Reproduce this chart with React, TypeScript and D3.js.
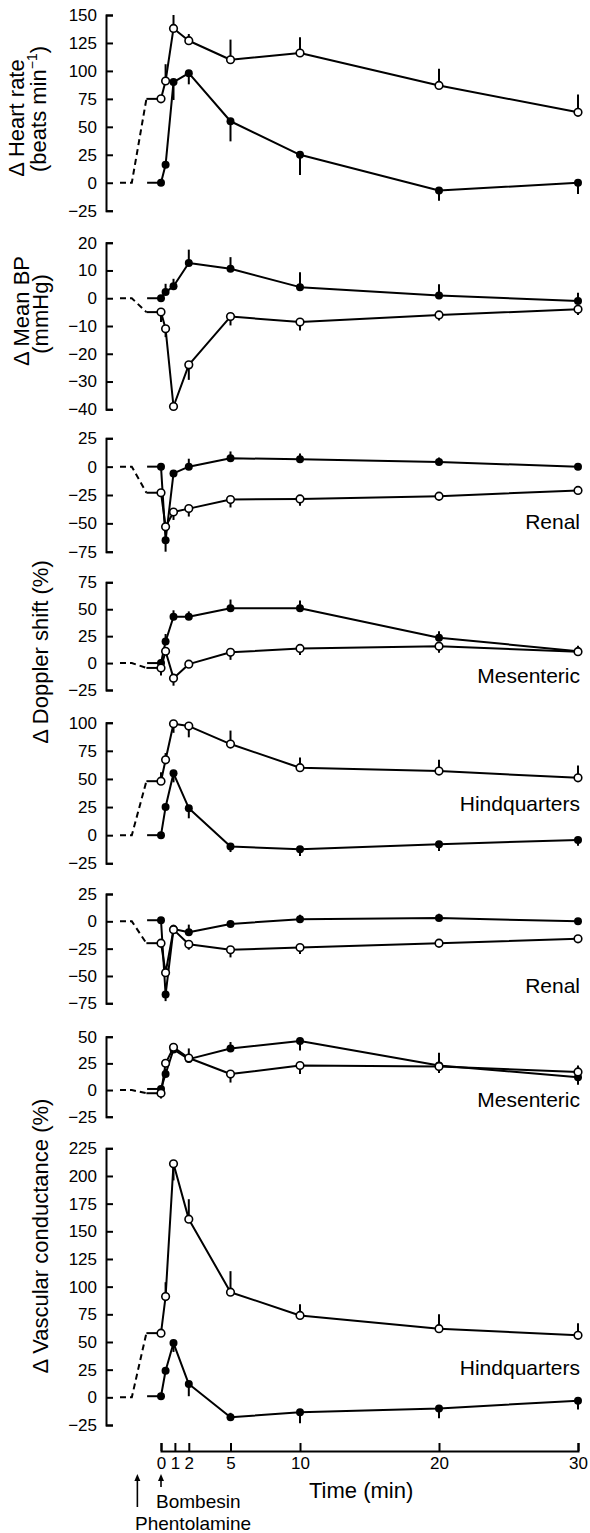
import { useEffect, useRef } from 'react';
import * as d3 from 'd3';

// sampling times (min) after bombesin
const times = [0, 0.33, 0.9, 2, 5, 10, 20, 30];
const xTicks = [0, 1, 2, 5, 10, 20, 30];
// pretreatment phase (drawn left of time 0)
const preOpenT = [-2.95, -2.1, -1.05];
const preFilledT = -1.0;
const phentolamineT = -1.7;

// Δ Heart rate
const hrOpen = [75, 91, 138, 127, 110, 116, 87, 63];
const hrOpenErr = [0, 15, 12, 6, 18, 14, 15, 16];
const hrFilled = [0, 16, 90, 98, 55, 25, -7, 0];
const hrFilledErr = [0, 0, -16, -10, -18, -18, -9, -10];

// Δ Mean BP
const bpOpen = [-5, -11, -39, -24, -6.6, -8.6, -6, -4];
const bpOpenErr = [-3.6, -3, 0, -5.4, -3.2, -3, -2, -2];
const bpFilled = [0, 2.2, 4.3, 12.7, 10.6, 4, 1, -1];
const bpFilledErr = [0, 3, 2.7, 4.8, 4.2, 5.4, 4, 3];

// Δ Doppler shift, renal
const rdOpen = [-23, -53, -40, -37, -29, -28.5, -26, -21];
const rdOpenErr = [-3, 0, -7, -7, -7, -6, -4, -3];
const rdFilled = [0, -65, -6, 0, 7.4, 6.5, 4, 0];
const rdFilledErr = [0, -10, 3, 7, 6, 5, 4, 3];

// Δ Doppler shift, mesenteric
const mdOpen = [-4.5, 11, -14, -1, 10, 13.6, 15.7, 10.6];
const mdOpenErr = [-7, 0, -7, 0, -7, -6, -6, -4];
const mdFilled = [0, 20, 43, 43, 51, 51, 23.6, 11];
const mdFilledErr = [0, 7, 6, 5, 8, 7, 6, 5];

// Δ Doppler shift, hindquarters
const hdOpen = [48, 67, 99, 97, 81, 60, 57, 51];
const hdOpenErr = [8, 6, -8, -10, 12, 9, 10, 11];
const hdFilled = [0, 25, 55, 24, -10, -12.5, -8, -4.3];
const hdFilledErr = [0, 0, -8, -9, -5, -6, -6, -5];

// Δ Vascular conductance, renal
const rcOpen = [-20, -47, -7.6, -21, -26, -24, -20, -16];
const rcOpenErr = [-4, 0, 0, -5, -7, -6, -4, -3];
const rcFilled = [1, -67, -7, -10, -2.4, 2, 3, 0];
const rcFilledErr = [0, -6, 4, 7, 3, 4, 4, 3];

// Δ Vascular conductance, mesenteric
const mcOpen = [-3, 25, 40, 30, 15, 23, 22, 17];
const mcOpenErr = [-5, 0, 0, 0, -8, -8, -6, 6];
const mcFilled = [1, 15, 38, 29, 39, 46, 23, 12];
const mcFilledErr = [0, 5, 6, 10, 6, -9, 12, -7];

// Δ Vascular conductance, hindquarters
const hcOpen = [58, 91, 211, 161, 95, 74, 62, 56];
const hcOpenErr = [0, 13, -15, 18, 19, 10, 13, 11];
const hcFilled = [1, 24, 49, 12, -18, -13.5, -10, -3];
const hcFilledErr = [0, 0, -8, -11, 4, -10, -9, -8];

const regionLabels = ['', '', 'Renal', 'Mesenteric', 'Hindquarters', 'Renal', 'Mesenteric', 'Hindquarters'];
const yDomains: [number, number][] = [[-25, 150], [-40, 20], [-75, 25], [-25, 75], [-25, 100], [-75, 25], [-25, 50], [-25, 225]];
const yStep = [25, 10, 25, 25, 25, 25, 25, 25];

const FONT = "'Liberation Sans', Arial, Helvetica, sans-serif";

const App: React.FC = () => {
  const ref = useRef<SVGSVGElement>(null);

  useEffect(() => {
    const width = 590;
    const height = 1533;
    const svg = d3.select(ref.current).attr('width', width).attr('height', height);
    svg.selectAll('*').remove();

    svg.append('rect').attr('width', width).attr('height', height).attr('fill', '#fff');

    const x = d3.scaleLinear().domain([0, 30]).range([161, 578]);
    const axisX = 106;

    // pixel extent of each panel's y axis (bottom tick, top tick)
    const ranges: [number, number][] = [
      [210.7, 15], [409.3, 242.7], [551.7, 438.3], [690, 582.3],
      [863.3, 722.7], [1003.3, 894], [1116.7, 1036.7], [1425, 1148.3],
    ];
    const labelY = [0, 0, 529, 683, 811, 993, 1107, 1375];

    const series = [
      [hrOpen, hrOpenErr, hrFilled, hrFilledErr],
      [bpOpen, bpOpenErr, bpFilled, bpFilledErr],
      [rdOpen, rdOpenErr, rdFilled, rdFilledErr],
      [mdOpen, mdOpenErr, mdFilled, mdFilledErr],
      [hdOpen, hdOpenErr, hdFilled, hdFilledErr],
      [rcOpen, rcOpenErr, rcFilled, rcFilledErr],
      [mcOpen, mcOpenErr, mcFilled, mcFilledErr],
      [hcOpen, hcOpenErr, hcFilled, hcFilledErr],
    ];

    series.forEach(([open, openErr, filled, filledErr], p) => {
      const [lo, hi] = yDomains[p];
      const y = d3.scaleLinear().domain([lo, hi]).range(ranges[p]);
      const g = svg.append('g');

      // y axis, ticks pointing inward
      const ax = g.append('g')
        .attr('transform', `translate(${axisX},0)`)
        .call(d3.axisLeft(y).tickValues(d3.range(lo, hi + 0.1, yStep[p]))
          .tickSizeInner(-7).tickSizeOuter(-7).tickPadding(9));
      ax.selectAll('path, line').attr('stroke', '#000').attr('stroke-width', 2);
      ax.selectAll('text').attr('font-size', 17).attr('font-family', FONT).attr('fill', '#000');

      const line = d3.line<[number, number]>().x((d) => x(d[0])).y((d) => y(d[1]));
      const pts = (vals: number[]) => vals.map((v, i) => [times[i], v] as [number, number]);

      // pretreatment: dashed drift, then plateau up to time 0
      g.append('path')
        .attr('d', line([[preOpenT[0], 0], [preOpenT[1], 0], [preOpenT[2], open[0]]]))
        .attr('fill', 'none').attr('stroke', '#000').attr('stroke-width', 2).attr('stroke-dasharray', '6,4');
      g.append('path')
        .attr('d', line([[preOpenT[2], open[0]], [0, open[0]]]))
        .attr('fill', 'none').attr('stroke', '#000').attr('stroke-width', 2);
      g.append('path')
        .attr('d', line([[preFilledT, filled[0]], [0, filled[0]]]))
        .attr('fill', 'none').attr('stroke', '#000').attr('stroke-width', 2);

      // series lines
      [open, filled].forEach((vals) => {
        g.append('path')
          .attr('d', line(pts(vals)))
          .attr('fill', 'none').attr('stroke', '#000').attr('stroke-width', 2).attr('stroke-linejoin', 'round');
      });

      // s.e.mean bars (one-sided)
      [[open, openErr], [filled, filledErr]].forEach(([vals, errs]) => {
        g.append('g').selectAll('line')
          .data(vals.map((v, i) => ({ t: times[i], v, e: errs[i] })).filter((d) => d.e !== 0))
          .enter()
          .append('line')
          .attr('x1', (d) => x(d.t)).attr('x2', (d) => x(d.t))
          .attr('y1', (d) => y(d.v)).attr('y2', (d) => y(d.v + d.e))
          .attr('stroke', '#000').attr('stroke-width', 2);
      });

      // markers
      g.append('g').selectAll('circle')
        .data(pts(filled)).enter().append('circle')
        .attr('cx', (d) => x(d[0])).attr('cy', (d) => y(d[1])).attr('r', 4)
        .attr('fill', '#000');
      g.append('g').selectAll('circle')
        .data(pts(open)).enter().append('circle')
        .attr('cx', (d) => x(d[0])).attr('cy', (d) => y(d[1])).attr('r', 3.8)
        .attr('fill', '#fff').attr('stroke', '#000').attr('stroke-width', 1.6);

      if (regionLabels[p]) {
        g.append('text').attr('x', 580).attr('y', labelY[p])
          .attr('text-anchor', 'end').attr('font-size', 21).attr('font-family', FONT)
          .text(regionLabels[p]);
      }
    });

    // rotated y titles
    const title = (tx: number, ty: number, txt: string) =>
      svg.append('text').attr('transform', `translate(${tx},${ty}) rotate(-90)`)
        .attr('text-anchor', 'middle').attr('font-size', 22).attr('font-family', FONT).text(txt);
    title(24, 118, 'Δ Heart rate');
    const beats = svg.append('text').attr('transform', 'translate(46,109) rotate(-90)')
      .attr('text-anchor', 'middle').attr('font-size', 22).attr('font-family', FONT);
    beats.append('tspan').text('(beats min');
    beats.append('tspan').attr('font-size', 14).attr('dy', -9).text('−1');
    beats.append('tspan').attr('dy', 9).text(')');
    title(29, 311, 'Δ Mean BP');
    title(48, 314, '(mmHg)');
    title(48, 652, 'Δ Doppler shift (%)');
    title(48, 1236, 'Δ Vascular conductance (%)');

    // time axis, ticks pointing up
    const axisY = 1451;
    const xa = svg.append('g')
      .attr('transform', `translate(0,${axisY})`)
      .call(d3.axisBottom(x).tickValues(xTicks).tickSizeInner(-8).tickSizeOuter(-8).tickPadding(6));
    xa.selectAll('path, line').attr('stroke', '#000').attr('stroke-width', 2);
    xa.selectAll('text').attr('font-size', 17).attr('font-family', FONT).attr('fill', '#000');

    svg.append('text').attr('x', 309).attr('y', 1498).attr('font-size', 22).attr('font-family', FONT)
      .text('Time (min)');

    // injection arrows
    const arrow = (t: number, y1: number, y2: number) => {
      const ax0 = x(t);
      svg.append('line').attr('x1', ax0).attr('x2', ax0).attr('y1', y1 + 4).attr('y2', y2)
        .attr('stroke', '#000').attr('stroke-width', 1.6);
      svg.append('path').attr('d', `M${ax0 - 3},${y1 + 7}L${ax0},${y1}L${ax0 + 3},${y1 + 7}Z`).attr('fill', '#000');
    };
    arrow(phentolamineT, 1474, 1507);
    arrow(0, 1474, 1487);
    svg.append('text').attr('x', 156).attr('y', 1508).attr('font-size', 19).attr('font-family', FONT)
      .text('Bombesin');
    svg.append('text').attr('x', 135).attr('y', 1530).attr('font-size', 19).attr('font-family', FONT)
      .text('Phentolamine');
  }, []);

  return <svg ref={ref} style={{ position: 'absolute', left: 0, top: 0 }}></svg>;
};

export default App;
